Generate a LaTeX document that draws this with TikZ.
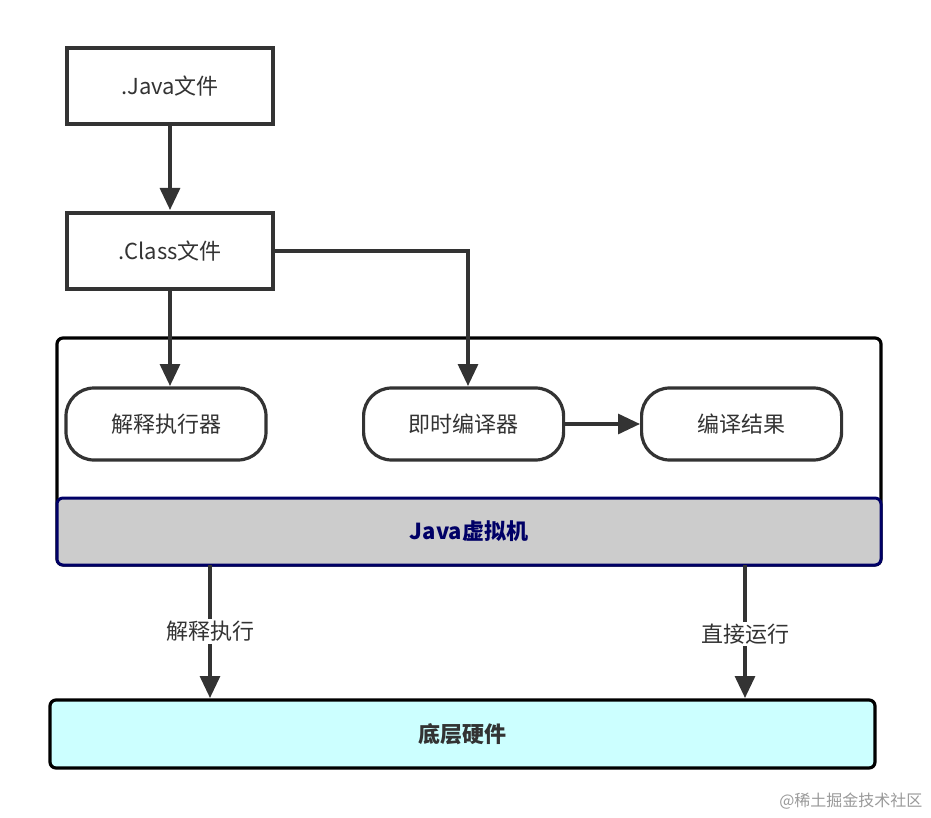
\documentclass[tikz,border=0pt]{standalone}
\usepackage{fontspec}
\setmainfont{Noto Sans CJK SC}
\usetikzlibrary{arrows.meta}
\definecolor{ln}{HTML}{333333}
\definecolor{navy}{HTML}{000066}
\definecolor{hwc}{HTML}{CCFFFF}
\begin{document}
\begin{tikzpicture}[x=1pt,y=-1pt,
  box/.style={draw=ln,line width=3.2pt,fill=white,minimum width=206pt,minimum height=76pt,font=\fontsize{22}{26}\selectfont,text=ln},
  pill/.style={draw=ln,line width=3.2pt,fill=white,rounded corners=28pt,minimum width=200pt,minimum height=72pt,font=\fontsize{22}{26}\selectfont,text=ln},
  arr/.style={draw=ln,line width=3.2pt,-{Triangle[length=22pt,width=20pt]}},
  lab/.style={fill=white,font=\fontsize{22}{26}\selectfont,text=ln,inner sep=2pt}]
\useasboundingbox (0,0) rectangle (931,818);
\node[box] (java) at (170,86) {.Java文件};
\node[box] (class) at (170,251) {.Class文件};
\draw[draw=black,line width=3.2pt,rounded corners=6pt] (57,338) rectangle (881,565);
\node[draw=navy,line width=3pt,fill=black!20,rounded corners=6pt,minimum width=824pt,minimum height=67pt,text=navy,font=\bfseries\fontsize{22}{26}\selectfont] (jvm) at (469,531.5) {Java虚拟机};
\node[pill] (interp) at (166,424) {解释执行器};
\node[pill,anchor=west] (jit) at (362,424) {即时编译器};
\node[pill,anchor=west] (res) at (640,424) {编译结果};
\node[draw=black,line width=3.2pt,fill=hwc,rounded corners=6pt,minimum width=825pt,minimum height=68pt,text=ln,font=\bfseries\fontsize{22}{26}\selectfont] (hw) at (462.5,734) {底层硬件};
\draw[arr] (java.south) -- (class.south |- 0,210);
\draw[arr] (class.south) -- (170,386);
\coordinate (jt) at (468,386);
\draw[arr] (class.east) -- (468,251) -- (jt);
\draw[arr] (jit.east) -- (res.west);
\draw[arr] (210,565) -- (210,698) node[lab,pos=0.5] {解释执行};
\draw[arr] (745,565) -- (745,698) node[lab,pos=0.52] {直接运行};
\node[text=black!40,font=\fontsize{16}{19}\selectfont,anchor=east] (wm) at (926,801) {@稀土掘金技术社区};
\end{tikzpicture}
\end{document}
